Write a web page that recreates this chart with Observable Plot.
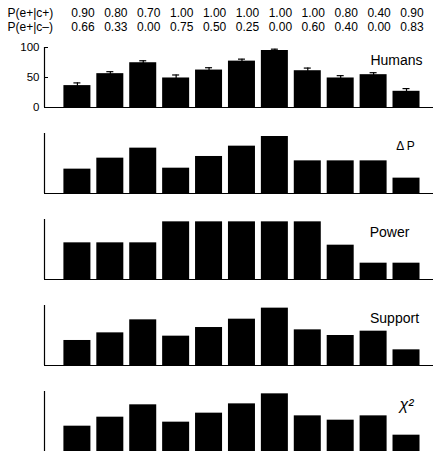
<!DOCTYPE html>
<html>
<head>
<meta charset="utf-8">
<script src="https://cdn.jsdelivr.net/npm/d3@7"></script>
<script src="https://cdn.jsdelivr.net/npm/@observablehq/plot@0.6"></script>
<style>
  body { margin: 0; background: white; }
  #chart { width: 435px; }
</style>
</head>
<body>
<div id="chart"></div>
<script>
// Header rows
const rowLabels = ["P(e+|c+)", "P(e+|c\u2013)"];
const pEgivenC = [0.90, 0.80, 0.70, 1.00, 1.00, 1.00, 1.00, 1.00, 0.80, 0.40, 0.90];
const pEgivenNotC = [0.66, 0.33, 0.00, 0.75, 0.50, 0.25, 0.00, 0.60, 0.40, 0.00, 0.83];

// Panel values (percent of panel height; Humans on 0-100 scale)
const humans = [36.5, 56.4, 74.6, 49.2, 62.4, 77.3, 95.0, 61.3, 49.2, 54.7, 27.0];
const humansErr = [4.5, 3.3, 3.3, 5.0, 3.9, 3.3, 2.2, 4.4, 3.9, 3.3, 4.5];
const deltaP = [40.6, 58.9, 75.6, 42.2, 61.7, 78.9, 95.0, 54.4, 54.4, 54.4, 25.6];
const power = [61.1, 61.1, 61.1, 96.1, 96.1, 96.1, 96.1, 96.1, 57.2, 27.2, 27.2];
const support = [41.7, 54.4, 76.1, 48.9, 63.3, 77.2, 95.6, 59.4, 50.0, 57.2, 26.1];
const chi2 = [42.2, 57.2, 77.8, 48.9, 63.9, 79.4, 96.1, 59.4, 52.2, 59.4, 27.2];

const panelNames = ["Humans", "\u0394 P", "Power", "Support", "\u03C7\u00B2"];
const panelValues = [humans, deltaP, power, support, chi2];

const W = 435;
const xDomain = [-1, 10.82];
const font = "'Liberation Sans', Arial, Helvetica, sans-serif";
const container = document.getElementById("chart");

// Header
const headerCells = [];
pEgivenC.forEach((v, i) => headerCells.push({i, row: 0, v}));
pEgivenNotC.forEach((v, i) => headerCells.push({i, row: 1, v}));
const headerRows = rowLabels.map((label, row) => ({row, label}));

container.append(Plot.plot({
  width: W, height: 36,
  marginLeft: 44, marginRight: 2, marginTop: 0, marginBottom: 0,
  x: {domain: xDomain, axis: null},
  y: {type: "point", domain: [0, 1], range: [12.5, 26.9], padding: 0, axis: null},
  style: {fontFamily: font, fontSize: "12px", background: "white", color: "black"},
  marks: [
    Plot.text(headerRows, {y: "row", text: "label", frameAnchor: "left", textAnchor: "start", dx: -37, fill: "black"}),
    Plot.text(headerCells, {x: "i", y: "row", text: d => d.v.toFixed(2), dx: 5.5, fill: "black"})
  ]
}));

const labelStyle = [
  {dx: -37, fontSize: 14, fontStyle: "normal"},
  {dx: -28, fontSize: 12, fontStyle: "normal"},
  {dx: -44, fontSize: 14, fontStyle: "normal"},
  {dx: -39, fontSize: 14, fontStyle: "normal"},
  {dx: -27, fontSize: 16, fontStyle: "italic"}
];

panelNames.forEach((name, p) => {
  const data = panelValues[p].map((v, i) => ({i, v, e: p === 0 ? humansErr[i] : 0}));
  const marks = [
    Plot.rectY(data, {x1: "i", x2: "i", y1: 0, y2: "v", insetLeft: -13.5, insetRight: -13.5, fill: "black"}),
    Plot.ruleY([0], {stroke: "black", strokeWidth: 1.2}),
    Plot.ruleX([xDomain[0]], {stroke: "black", strokeWidth: 1.2}),
    Plot.text([name], {frameAnchor: "top-right", textAnchor: "middle", lineAnchor: "middle",
      dx: labelStyle[p].dx, dy: 13, fontSize: labelStyle[p].fontSize, fontStyle: labelStyle[p].fontStyle, fill: "black"})
  ];
  if (p === 0) {
    marks.push(
      Plot.ruleX(data, {x: "i", y1: d => d.v - d.e, y2: d => d.v + d.e, stroke: "black", strokeWidth: 1.2}),
      Plot.ruleY(data, {y: d => d.v + d.e, x1: "i", x2: "i", insetLeft: -3.5, insetRight: -3.5, stroke: "black", strokeWidth: 1.2}),
      Plot.axisY({ticks: [0, 50, 100], tickSize: -4, tickPadding: 9, fontSize: 11.5, label: null})
    );
  }
  container.append(Plot.plot({
    width: W, height: 86,
    marginLeft: 44, marginRight: 2, marginTop: 11, marginBottom: 15,
    x: {domain: xDomain, axis: null},
    y: {domain: [0, 100], axis: null, label: null},
    style: {fontFamily: font, fontSize: "11px", background: "white", color: "black", overflow: "visible"},
    marks
  }));
});
</script>
</body>
</html>
